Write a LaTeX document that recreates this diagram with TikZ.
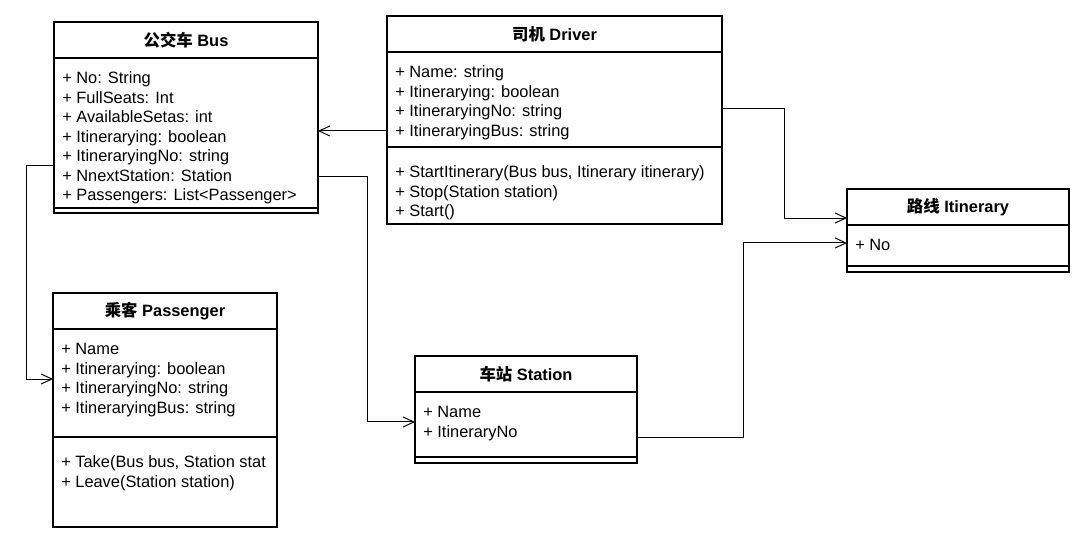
\documentclass[tikz,border=0pt]{standalone}
\usepackage{fontspec}
\setmainfont{Liberation Sans}
\newfontfamily\cjk{Noto Sans CJK SC}
\usetikzlibrary{positioning,arrows.meta}
\newcommand*{\umlfont}{\fontsize{12.3pt}{14.6pt}\selectfont}
\tikzset{
  classhead/.style={draw, line width=0.9pt, inner sep=0pt, outer sep=0pt, minimum height=27pt, anchor=north west, font=\umlfont\bfseries},
  classpart/.style={draw, line width=0.9pt, inner sep=0pt, outer sep=0pt},
  members/.style={anchor=north west, align=left, inner sep=0pt, font=\umlfont},
  assoc/.style={line width=0.75pt, -{Straight Barb[length=8pt,width=7.5pt]}}
}

\begin{document}
\begin{tikzpicture}[x=0.75pt, y=-0.75pt]
\useasboundingbox (0,0) rectangle (1080,537);

\node (busHead) [classhead, minimum width=198pt] at (54,22) {{\cjk 公交车} Bus};
\node (busAttr) [classpart, minimum width=198pt, minimum height=112.5pt, below=0pt of busHead] {};
\node (busOps) [classpart, minimum width=198pt, minimum height=3.75pt, below=0pt of busAttr] {};
\node (busList) [members] at ([shift={(6pt,-8.9pt)}]busAttr.north west) {\strut+ No: String\\+ FullSeats: Int\\+ AvailableSetas: int\\+ Itinerarying: boolean\\+ ItineraryingNo: string\\+ NnextStation: Station\\+ Passengers: List<Passenger>};

\node (drvHead) [classhead, minimum width=251.25pt] at (387,16) {{\cjk 司机} Driver};
\node (drvAttr) [classpart, minimum width=251.25pt, minimum height=71.25pt, below=0pt of drvHead] {};
\node (drvOps) [classpart, minimum width=251.25pt, minimum height=57.75pt, below=0pt of drvAttr] {};
\node (drvList) [members] at ([shift={(6pt,-8.9pt)}]drvAttr.north west) {\strut+ Name: string\\+ Itinerarying: boolean\\+ ItineraryingNo: string\\+ ItineraryingBus: string};
\node (drvMeth) [members] at ([shift={(6pt,-12.5pt)}]drvOps.north west) {\strut+ StartItinerary(Bus bus, Itinerary itinerary)\\+ Stop(Station station)\\+ Start()};

\node (itnHead) [classhead, minimum width=166.5pt] at (847,189) {{\cjk 路线} Itinerary};
\node (itnAttr) [classpart, minimum width=166.5pt, minimum height=30.75pt, below=0pt of itnHead] {};
\node (itnOps) [classpart, minimum width=166.5pt, minimum height=4.5pt, below=0pt of itnAttr] {};
\node (itnList) [members] at ([shift={(6pt,-8.9pt)}]itnAttr.north west) {\strut+ No};

\node (psgHead) [classhead, minimum width=168pt] at (53,293) {{\cjk 乘客} Passenger};
\node (psgAttr) [classpart, minimum width=168pt, minimum height=81pt, below=0pt of psgHead] {};
\node (psgOps) [classpart, minimum width=168pt, minimum height=67.5pt, below=0pt of psgAttr] {};
\node (psgList) [members] at ([shift={(6pt,-8.9pt)}]psgAttr.north west) {\strut+ Name\\+ Itinerarying: boolean\\+ ItineraryingNo: string\\+ ItineraryingBus: string};
\node (psgMeth) [members] at ([shift={(6pt,-12.5pt)}]psgOps.north west) {\strut+ Take(Bus bus, Station stat\\+ Leave(Station station)};

\node (stnHead) [classhead, minimum width=166.5pt] at (415,356) {{\cjk 车站} Station};
\node (stnAttr) [classpart, minimum width=166.5pt, minimum height=48.75pt, below=0pt of stnHead] {};
\node (stnOps) [classpart, minimum width=166.5pt, minimum height=4.5pt, below=0pt of stnAttr] {};
\node (stnList) [members] at ([shift={(6pt,-8.9pt)}]stnAttr.north west) {\strut+ Name\\+ ItineraryNo};

\draw[assoc] ([yshift=-23.6pt]drvAttr.west) -- ([yshift=-23.6pt]drvAttr.west -| busAttr.east);
\draw[assoc] ([yshift=-24pt]busAttr.west) -- ++(-21pt,0) |- ([yshift=3pt]psgAttr.west);
\draw[assoc] ([yshift=-32.25pt]busAttr.east) -- ++(36.75pt,0) |- ([yshift=1.9pt]stnAttr.west);
\draw[assoc] ([yshift=-7.1pt]drvAttr.east) -- ++(46.5pt,0) |- ([yshift=-8.25pt]itnHead.west);
\draw[assoc] ([yshift=-9.4pt]stnAttr.east) -- ++(79.5pt,0) |- ([yshift=1.9pt]itnAttr.west);
\end{tikzpicture}
\end{document}
